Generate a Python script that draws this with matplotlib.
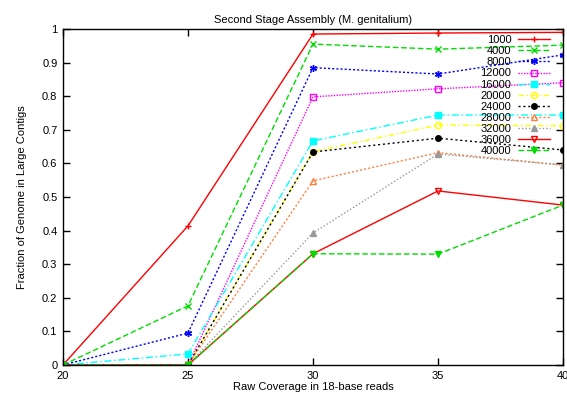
import numpy as np
import matplotlib
matplotlib.use("Agg")
import matplotlib.pyplot as plt

plt.rcParams['font.family'] = ['Liberation Sans', 'DejaVu Sans']

coverage = [20, 25, 30, 35, 40]
labels = ['1000', '4000', '8000', '12000', '16000', '20000',
          '24000', '28000', '32000', '36000', '40000']
frac = [
    [0, 0.414, 0.985, 0.988, 0.990],
    [0, 0.176, 0.955, 0.940, 0.952],
    [0, 0.095, 0.885, 0.866, 0.923],
    [0, 0.000, 0.798, 0.822, 0.840],
    [0, 0.033, 0.667, 0.744, 0.744],
    [0, 0.000, 0.635, 0.714, 0.712],
    [0, 0.000, 0.634, 0.675, 0.640],
    [0, 0.000, 0.548, 0.632, 0.595],
    [0, 0.000, 0.393, 0.628, 0.595],
    [0, 0.000, 0.331, 0.518, 0.476],
    [0, 0.000, 0.331, 0.330, 0.476],
]

colors = ['#ff0000', '#00dd00', '#0000ff', '#ff00ff', '#00ffff', '#ffff00',
          '#000000', '#ff7f40', '#999999', '#ff0000', '#00dd00']
styles = ['-', (0, (4, 2)), (0, (1.5, 1.5)), (0, (1, 1)), (0, (5, 2, 1, 2)),
          (0, (4, 2, 1, 2)), (0, (1.5, 2)), (0, (1.5, 1.5)), (0, (1, 1.5)),
          '-', (0, (4, 2))]
markers = ['+', 'x', (6, 2, 0), 's', 's', 'o', 'o', '^', '^', 'v', 'v']
filled = [True, True, True, False, True, False, True, False, True, False, True]
msizes = [5, 5, 5, 5, 5, 4.5, 4, 5, 5, 5, 5]

fig = plt.figure(figsize=(5.67, 4.0), dpi=100)
ax = fig.add_axes([0.111, 0.0875, 0.882, 0.84])

for lab, y, c, ls, m, f, ms in zip(labels, frac, colors, styles, markers,
                                   filled, msizes):
    ax.plot(coverage, y, color=c, linestyle=ls, linewidth=1, marker=m,
            markersize=ms, markerfacecolor=c if f else 'none',
            markeredgecolor=c, markeredgewidth=1, label=lab)

ax.set_xlim(20, 40)
ax.set_ylim(0, 1)
ax.set_xticks(coverage)
ax.set_yticks(np.arange(0, 1.01, 0.1))
ax.set_yticklabels(['0', '0.1', '0.2', '0.3', '0.4', '0.5', '0.6', '0.7',
                    '0.8', '0.9', '1'])
ax.tick_params(direction='in', top=True, right=True, length=5, width=1,
               labelsize=8, pad=4)
for s in ax.spines.values():
    s.set_linewidth(1)

ax.set_title('Second Stage Assembly (M. genitalium)', fontsize=8, pad=4)
ax.set_xlabel('Raw Coverage in 18-base reads', fontsize=8, labelpad=1)
ax.set_ylabel('Fraction of Genome in Large Contigs', fontsize=8, labelpad=11)

ax.legend(loc='upper right', bbox_to_anchor=(0.989, 1.005), frameon=False,
          markerfirst=False, fontsize=8, labelspacing=0.1, handlelength=2.9,
          handletextpad=0.55, borderpad=0.2)

fig.savefig('out.png', dpi=100)
